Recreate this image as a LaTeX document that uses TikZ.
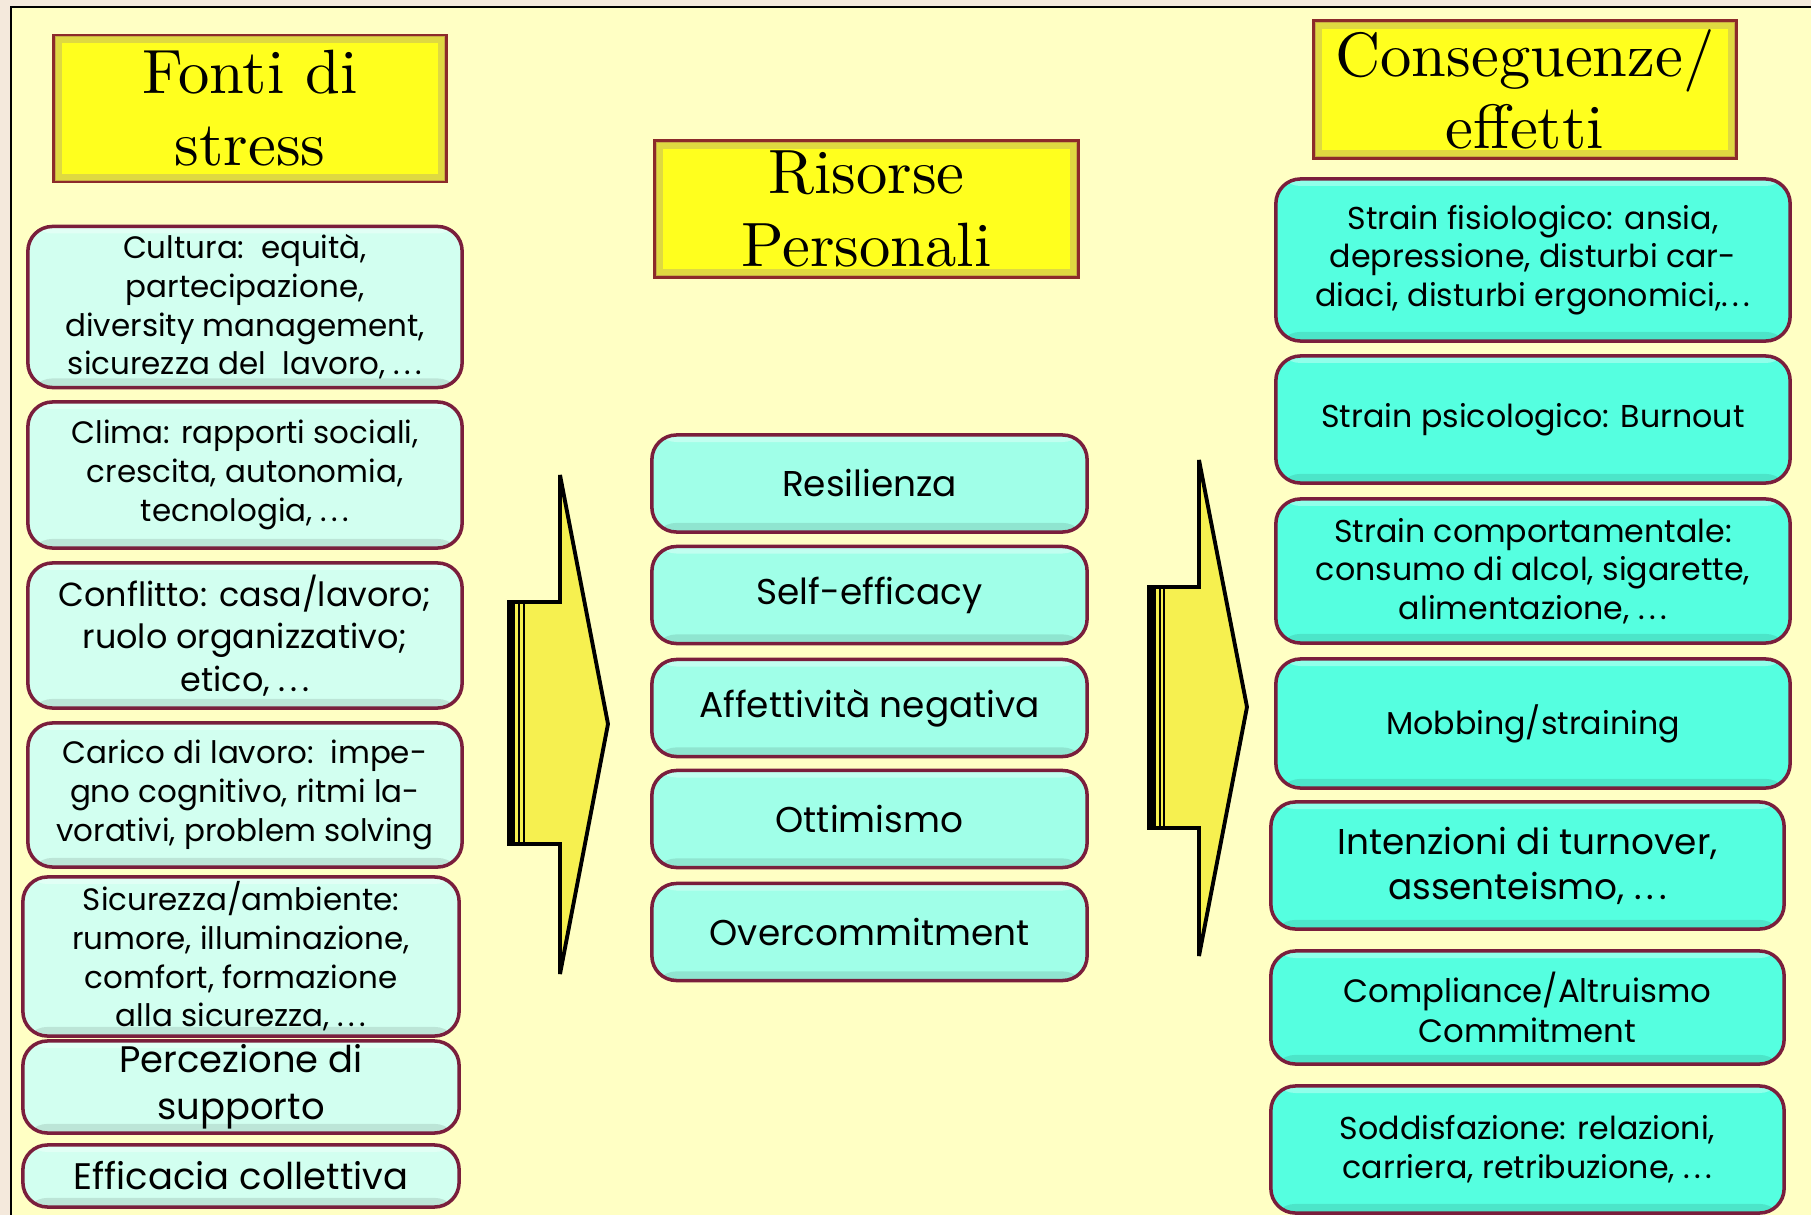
\documentclass[tikz,border=0pt]{standalone}
\usepackage{fontspec}
\newfontfamily\boxfont{Poppins}
\newfontfamily\headfont{lmroman10-regular}[Extension=.otf]
\usetikzlibrary{calc}
\definecolor{pageedge}{HTML}{F4E9DC}
\definecolor{pagebg}{HTML}{FFFFC4}
\definecolor{hdyellow}{HTML}{FFFF1E}
\definecolor{hdbevel}{HTML}{D8D04A}
\definecolor{hdred}{HTML}{8C2A2A}
\definecolor{boxred}{HTML}{7A1E3C}
\definecolor{cyanpale}{HTML}{D2FFF0}
\definecolor{cyanmid}{HTML}{A0FFE8}
\definecolor{cyanfull}{HTML}{55FFE0}
\definecolor{arrowyellow}{HTML}{F6F050}
\newcommand{\etc}{.\kern0.14em.\kern0.14em.}

\begin{document}
\begin{tikzpicture}[x=0.01cm, y=-0.01cm,
    head/.style={fill=hdyellow, draw=hdred, line width=1pt, align=center,
                 inner sep=0pt, font=\headfont\fontsize{17.8}{20.5}\selectfont},
    bevel/.style={draw=hdbevel, line width=0.7mm, opacity=0.8},
    box/.style={rounded corners=7pt, draw=boxred, line width=1pt,
                align=center, inner sep=0pt,
                path picture={
                  \fill[white, opacity=0.35]
                    (path picture bounding box.north west) rectangle
                    ($(path picture bounding box.north east)+(0pt,-2pt)$);
                  \fill[black, opacity=0.1]
                    (path picture bounding box.south west) rectangle
                    ($(path picture bounding box.south east)+(0pt,2.6pt)$);
                }},
    leftbox/.style={box, fill=cyanpale, minimum width=4.34cm,
                    font=\boxfont\fontsize{8.8}{11}\selectfont},
    midbox/.style={box, fill=cyanmid, minimum width=4.35cm,
                   minimum height=0.97cm,
                   font=\boxfont\fontsize{10.2}{13}\selectfont},
    rightbox/.style={box, fill=cyanfull, minimum width=5.14cm,
                     font=\boxfont\fontsize{9}{11}\selectfont},
    midtext/.style={font=\boxfont\fontsize{9.5}{12}\selectfont},
    bigtext/.style={font=\boxfont\fontsize{10.5}{13.3}\selectfont},
    bigarrow/.style={fill=arrowyellow, draw=black, line width=1.1pt,
                     line join=miter},
    stripe/.style={draw=black, line width=0.5pt}
  ]
  \useasboundingbox (0,0) rectangle (1811,1215);
  % page
  \fill[pageedge] (0,0) rectangle (1811,1215);
  \fill[pagebg] (11,7) rectangle (1811,1215);
  \draw[line width=0.6pt] (11,1215) -- (11,7) -- (1811,7);

  % headers
  \node[head, minimum width=3.92cm, minimum height=1.46cm] (fonti)
    at (250,108.5) {Fonti di\\stress};
  \node[head, minimum width=4.23cm, minimum height=1.36cm] (risorse)
    at (866.5,209) {Risorse\\Personali};
  \node[head, minimum width=4.22cm, minimum height=1.37cm] (effetti)
    at (1525,89.5) {Conseguenze/\\effetti};
  \foreach \h in {fonti, risorse, effetti}
    \draw[bevel] ($(\h.north west)+(6,6)$) rectangle ($(\h.south east)+(-6,-6)$);

  % fonti di stress
  \node[leftbox, minimum height=1.61cm] (cultura) at (245,307)
    {Cultura:\ \ equità,\\ partecipazione,\\ diversity management,\\
     sicurezza del\ \ lavoro, \etc};
  \node[leftbox, minimum height=1.46cm] (clima) at (245,475)
    {Clima: rapporti sociali,\\ crescita, autonomia,\\ tecnologia, \etc};
  \node[leftbox, minimum height=1.45cm, midtext] (conflitto) at (245,635.5)
    {Conflitto: casa/lavoro;\\ ruolo organizzativo;\\ etico, \etc};
  \node[leftbox, minimum height=1.44cm] (carico) at (245,795)
    {Carico di lavoro:\ \ impe-\\ gno cognitivo, ritmi la-\\
     vorativi, problem solving};
  \node[leftbox, minimum width=4.36cm, minimum height=1.59cm] (sicurezza)
    at (241,956.5)
    {Sicurezza/ambiente:\\ rumore, illuminazione,\\ comfort, formazione\\
     alla sicurezza, \etc};
  \node[leftbox, minimum width=4.36cm, minimum height=0.92cm, bigtext]
    (supporto) at (241,1087) {Percezione di\\ supporto};
  \node[leftbox, minimum width=4.36cm, minimum height=0.62cm, bigtext]
    (collettiva) at (241,1176) {Efficacia collettiva};

  % risorse personali
  \node[midbox] (resilienza) at (869.5,483.5) {Resilienza};
  \node[midbox] (selfeff) at (869.5,595) {Self-efficacy};
  \node[midbox] (affett) at (869.5,708) {Affettività negativa};
  \node[midbox] (ottimismo) at (869.5,819) {Ottimismo};
  \node[midbox] (overcomm) at (869.5,932) {Overcommitment};

  % conseguenze
  \node[rightbox, minimum height=1.62cm] (fisio) at (1533,260)
    {Strain fisiologico: ansia,\\ depressione, disturbi car-\\
     diaci, disturbi ergonomici,\etc};
  \node[rightbox, minimum height=1.27cm] (psico) at (1533,419.5)
    {Strain psicologico: Burnout};
  \node[rightbox, minimum height=1.44cm] (comport) at (1533,571)
    {Strain comportamentale:\\ consumo di alcol, sigarette,\\
     alimentazione, \etc};
  \node[rightbox, minimum height=1.29cm] (mobbing) at (1533,723.5)
    {Mobbing/straining};
  \node[rightbox, minimum width=5.13cm, minimum height=1.27cm,
        font=\boxfont\fontsize{10.2}{12.8}\selectfont]
    (turnover) at (1527.5,865.5) {Intenzioni di turnover,\\ assenteismo, \etc};
  \node[rightbox, minimum width=5.13cm, minimum height=1.13cm,
        font=\boxfont\fontsize{9.2}{11.6}\selectfont]
    (compliance) at (1527.5,1007.5) {Compliance/Altruismo\\ Commitment};
  \node[rightbox, minimum width=5.13cm, minimum height=1.27cm]
    (soddisf) at (1527.5,1149.5)
    {Soddisfazione: relazioni,\\ carriera, retribuzione, \etc};

  % big arrows
  \draw[bigarrow] (509,602) -- (560,602) -- (560,475) -- (608,724)
    -- (560,974) -- (560,844) -- (509,844) -- cycle;
  \fill (509,602) rectangle (515,844);
  \draw[stripe] (519,602) -- (519,844);
  \draw[stripe] (524,602) -- (524,844);

  \draw[bigarrow] (1149,587) -- (1199,587) -- (1199,460) -- (1247,707)
    -- (1199,956) -- (1199,828) -- (1149,828) -- cycle;
  \fill (1149,587) rectangle (1156,828);
  \draw[stripe] (1160,587) -- (1160,828);
  \draw[stripe] (1164,587) -- (1164,828);
\end{tikzpicture}
\end{document}
